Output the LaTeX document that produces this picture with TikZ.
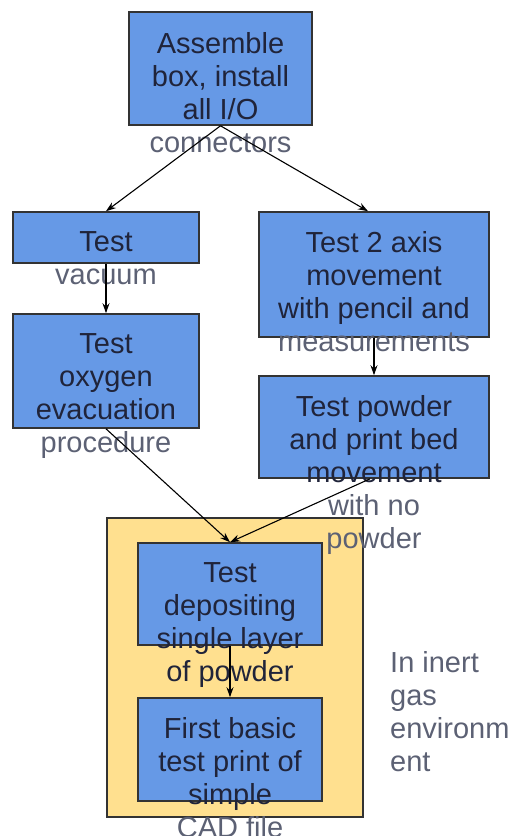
\documentclass[tikz,border=0pt]{standalone}
\usepackage{fontspec}
\setmainfont{Liberation Sans}
\usetikzlibrary{arrows.meta}

\definecolor{stepblue}{HTML}{6699E6}
\definecolor{inertyellow}{HTML}{FFE08F}
\definecolor{boxtext}{HTML}{20243A}
\definecolor{spilltext}{HTML}{5C6174}

\tikzset{
    stepbox/.style={draw=black!80, line width=1.6pt, fill=stepblue, inner sep=0pt},
    steptext/.style={anchor=north, align=center, inner sep=0pt, text=boxtext,
        font=\fontsize{29}{33}\selectfont},
    flow/.style={line width=1.1pt, -{Stealth[length=10pt, width=7pt]}},
}

\begin{document}
\begin{tikzpicture}[x=1pt, y=1pt]

        \useasboundingbox (0,0) rectangle (517,-836);

        % inert gas chamber round the last two steps
        \node[draw=black!80, line width=1.4pt, fill=inertyellow, minimum width=256pt,
            minimum height=299pt] (chamber) at (235,-667.5) {};
        \node[anchor=north west, align=left, inner sep=0pt, text=spilltext,
            font=\fontsize{29}{33}\selectfont] (inert) at (390,-651)
            {In inert\\gas\\environm\\ent};

        % steps
        \node[stepbox, minimum width=183pt, minimum height=113pt] (assemble) at (220.5,-68.5) {};
        \node[steptext] (assembletxt) at ([yshift=-21pt]assemble.north)
            {Assemble\\box, install\\all I/O\\{\color{spilltext}connectors}};

        \node[stepbox, minimum width=186pt, minimum height=51pt] (vacuum) at (106,-237.5) {};
        \node[steptext] (vacuumtxt) at ([yshift=-20pt]vacuum.north)
            {Test\\{\color{spilltext}vacuum}};

        \node[stepbox, minimum width=186pt, minimum height=114pt] (oxygen) at (106,-371) {};
        \node[steptext] (oxygentxt) at ([yshift=-20pt]oxygen.north)
            {Test\\oxygen\\evacuation\\{\color{spilltext}procedure}};

        \node[stepbox, minimum width=230pt, minimum height=125pt] (axis) at (374,-274.5) {};
        \node[steptext] (axistxt) at ([yshift=-20pt]axis.north)
            {Test 2 axis\\movement\\with pencil and\\{\color{spilltext}measurements}};

        \node[stepbox, minimum width=230pt, minimum height=102pt] (bed) at (374,-427) {};
        \node[steptext] (bedtxt) at ([yshift=-20pt]bed.north)
            {Test powder\\and print bed\\movement\\{\color{spilltext}with no}\\{\color{spilltext}powder}};

        \node[stepbox, minimum width=184pt, minimum height=102pt] (layer) at (230,-594) {};
        \node[steptext] (layertxt) at ([yshift=-20pt]layer.north)
            {Test\\depositing\\single layer\\of powder};

        \node[stepbox, minimum width=184pt, minimum height=103pt] (print) at (230,-749.5) {};
        \node[steptext] (printtxt) at ([yshift=-20pt]print.north)
            {First basic\\test print of\\simple\\{\color{spilltext}CAD file}};

        % order of the steps
        \draw[flow] (assemble.south) -- (vacuum.north);
        \draw[flow] (assemble.south) -- ([xshift=-6pt]axis.north);
        \draw[flow] (vacuum.south) -- (oxygen.north);
        \draw[flow] (axis.south) -- (bed.north);
        \draw[flow] (oxygen.south) -- (layer.north);
        \draw[flow] ([xshift=-4pt]bed.south) -- (layer.north);
        \draw[flow] (layer.south) -- (print.north);

    \end{tikzpicture}
\end{document}
